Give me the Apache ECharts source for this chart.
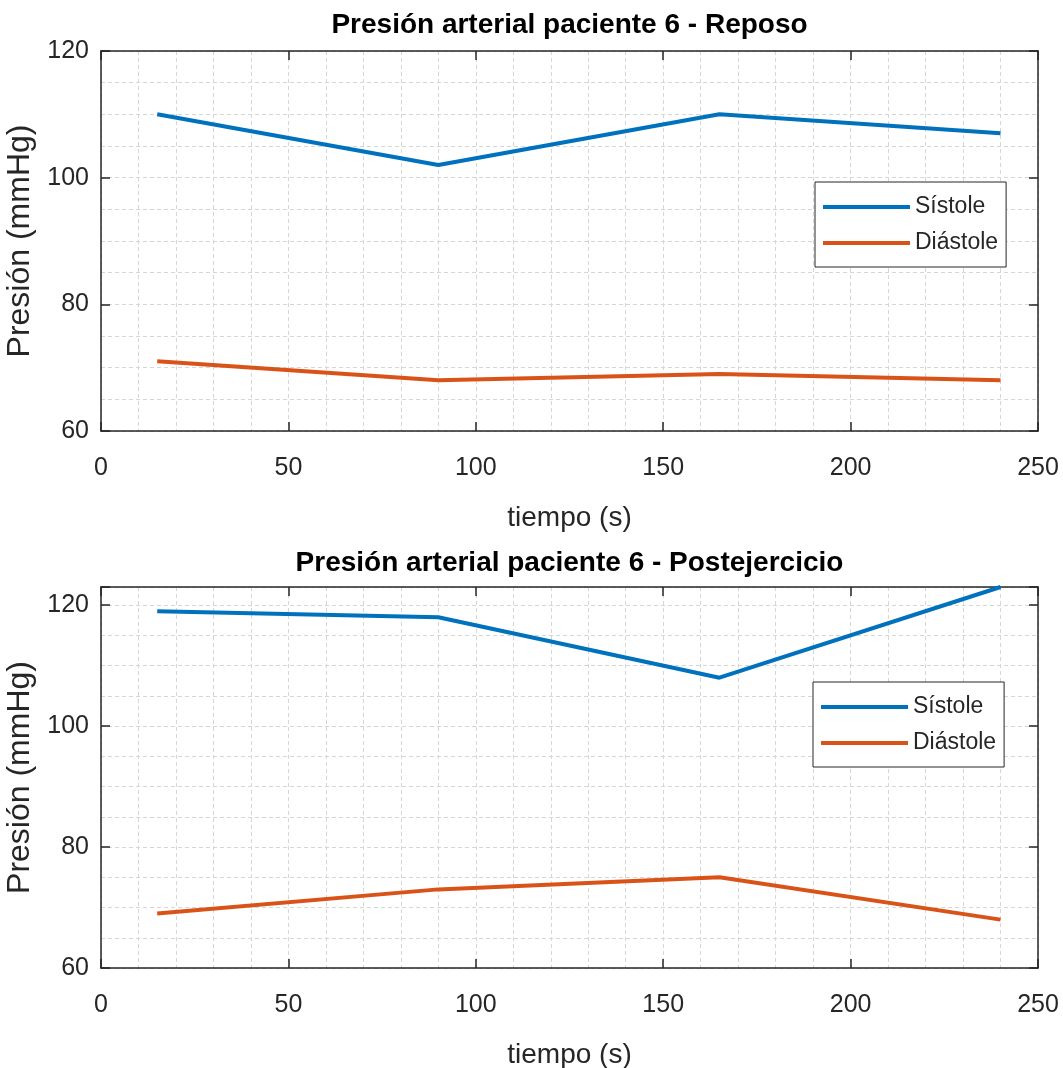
<!DOCTYPE html>
<html><head><meta charset="utf-8">
<script src="https://cdn.jsdelivr.net/npm/echarts@6/dist/echarts.min.js"></script>
<style>html,body{margin:0;padding:0;background:#fff}#c{width:1063px;height:1068px}</style>
</head><body><div id="c"></div>
<script>
// ---- data ----
const tiempo = [15, 90, 165, 240];
const sistoleReposo = [110, 102, 110, 107];
const diastoleReposo = [71, 68, 69, 68];
const sistolePost = [119, 118, 108, 123];
const diastolePost = [69, 73, 75, 68];
const titulos = ['Presión arterial paciente 6 - Reposo', 'Presión arterial paciente 6 - Postejercicio'];
const nombresSeries = ['Sístole', 'Diástole'];
const xTicks = [0, 50, 100, 150, 200, 250];
const yTicks = [60, 80, 100, 120];
const yMaxPorPanel = [120, 123];
const xLabel = 'tiempo (s)';
const yLabel = 'Presión (mmHg)';

// ---- style ----
const FONT = "'Liberation Sans', Arial, Helvetica, sans-serif";
const AX = '#262626';
const GRIDC = '#d6d6d6';
const C1 = '#0072BD', C2 = '#D95319';
const grids = [
  {left: 101, top: 51, width: 937, height: 380, containLabel: false, outerBoundsMode: 'none'},
  {left: 101, top: 587, width: 937, height: 381, containLabel: false, outerBoundsMode: 'none'}
];
const dash = {color: GRIDC, type: [4, 3], width: 1};
const axLine = {show: true, onZero: false, lineStyle: {color: AX, width: 1.5}};
const axTick = {show: true, inside: true, length: 9, lineStyle: {color: AX, width: 1.5}};

const xAxis = [], yAxis = [];
grids.forEach((g, gi) => {
  const xmin = xTicks[0], xmax = xTicks[xTicks.length - 1], xint = xTicks[1] - xTicks[0];
  xAxis.push({
    gridIndex: gi, type: 'value', min: xmin, max: xmax, interval: xint, position: 'bottom',
    axisLine: axLine, axisTick: axTick,
    axisLabel: {show: true, margin: 25, fontSize: 25, color: AX, fontFamily: FONT},
    name: xLabel, nameLocation: 'middle', nameGap: 73,
    nameTextStyle: {fontSize: 28, color: AX, fontFamily: FONT},
    splitLine: {show: true, lineStyle: dash},
    minorTick: {show: false, splitNumber: 5},
    minorSplitLine: {show: true, lineStyle: dash}
  });
  xAxis.push({
    gridIndex: gi, type: 'value', min: xmin, max: xmax, interval: xint, position: 'top',
    axisLine: axLine, axisTick: axTick, axisLabel: {show: false}, splitLine: {show: false}
  });
  const ymin = yTicks[0], ymax = yMaxPorPanel[gi], yint = yTicks[1] - yTicks[0];
  yAxis.push({
    gridIndex: gi, type: 'value', min: ymin, max: ymax, interval: yint, position: 'left',
    axisLine: axLine, axisTick: axTick,
    axisLabel: {show: true, margin: 12, fontSize: 25, color: AX, fontFamily: FONT,
      formatter: v => (yTicks.indexOf(v) >= 0 ? String(v) : '')},
    name: yLabel, nameLocation: 'middle', nameGap: 62,
    nameTextStyle: {fontSize: 32, color: AX, fontFamily: FONT},
    splitLine: {show: false}
  });
  yAxis.push({
    gridIndex: gi, type: 'value', min: ymin, max: ymax, interval: yint, position: 'right',
    axisLine: axLine, axisTick: axTick, axisLabel: {show: false}, splitLine: {show: false}
  });
  yAxis.push({
    gridIndex: gi, type: 'value', min: ymin, max: ymax, interval: 5, position: 'left',
    axisLine: {show: false}, axisTick: {show: false}, axisLabel: {show: false},
    splitLine: {show: true, lineStyle: dash}
  });
});

function mk(name, xs, ys, gi, color) {
  return {
    type: 'line', name: name, xAxisIndex: gi * 2, yAxisIndex: gi * 3,
    data: xs.map((x, i) => [x, ys[i]]), symbol: 'none', z: 5,
    lineStyle: {width: 4, color: color}, itemStyle: {color: color}
  };
}
const series = [
  mk(nombresSeries[0], tiempo, sistoleReposo, 0, C1),
  mk(nombresSeries[1], tiempo, diastoleReposo, 0, C2),
  mk(nombresSeries[0], tiempo, sistolePost, 1, C1),
  mk(nombresSeries[1], tiempo, diastolePost, 1, C2)
];

const legendBase = {
  orient: 'vertical', data: nombresSeries, icon: 'rect', itemWidth: 87, itemHeight: 4, itemGap: 10,
  padding: [12, 8, 11, 8], borderColor: AX, borderWidth: 1, backgroundColor: '#fff',
  textStyle: {fontSize: 23, color: AX, fontFamily: FONT, lineHeight: 26}, selectedMode: false
};

const chart = echarts.init(document.getElementById('c'), null, {renderer: 'canvas'});
chart.setOption({
  animation: false,
  backgroundColor: '#fff',
  grid: grids,
  xAxis: xAxis,
  yAxis: yAxis,
  series: series,
  legend: [
    Object.assign({}, legendBase, {left: 815, top: 182}),
    Object.assign({}, legendBase, {left: 813, top: 682})
  ],
  graphic: [
    {type: 'text', x: 569.5, y: 25, style: {text: titulos[0], fontSize: 28, fontWeight: 'bold', fontFamily: FONT, fill: '#000', align: 'center', verticalAlign: 'middle'}},
    {type: 'text', x: 569.5, y: 563, style: {text: titulos[1], fontSize: 28, fontWeight: 'bold', fontFamily: FONT, fill: '#000', align: 'center', verticalAlign: 'middle'}}
  ]
});
</script>
</body></html>
